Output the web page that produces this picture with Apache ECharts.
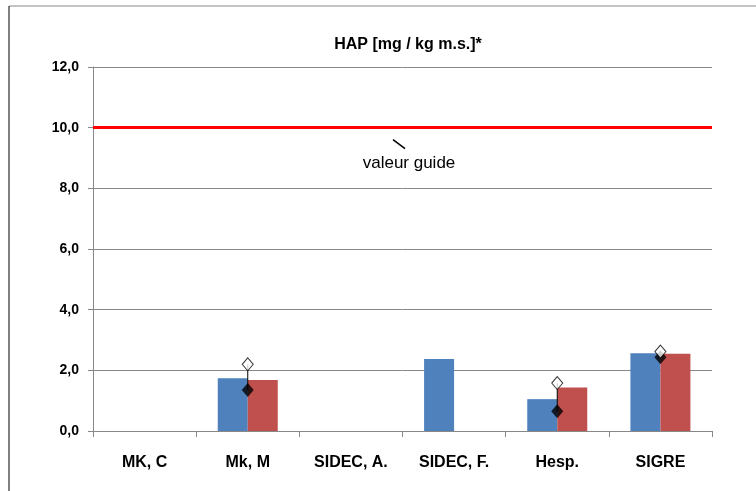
<!DOCTYPE html>
<html><head><meta charset="utf-8">
<script src="https://cdn.jsdelivr.net/npm/echarts@6/dist/echarts.min.js"></script>
<style>html,body{margin:0;padding:0;background:#fff}#c{width:756px;height:491px}</style>
</head><body><div id="c"></div>
<script>
var categories = ['MK, C', 'Mk, M', 'SIDEC, A.', 'SIDEC, F.', 'Hesp.', 'SIGRE'];
var blueValues = [null, 1.74, null, 2.37, 1.05, 2.56];
var redValues = [null, 1.68, null, null, 1.43, 2.55];
var lowValues = [null, 1.35, null, null, 0.65, 2.43];
var highValues = [null, 2.2, null, null, 1.58, 2.62];
var guideValue = 10;
var guideLabel = 'valeur guide';
var titleText = 'HAP [mg / kg m.s.]*';

var font = '"Liberation Sans", Arial, sans-serif';
var chart = echarts.init(document.getElementById('c'));
var rangeData = categories.map(function (c, i) { return [i, lowValues[i], highValues[i]]; });

chart.setOption({
  animation: false,
  backgroundColor: '#fff',
  title: { text: titleText, left: 403, top: 32, textAlign: 'center',
    textStyle: { fontFamily: font, fontSize: 16, fontWeight: 'bold', color: '#000' } },
  grid: { left: 93, right: 44, top: 67, bottom: 60 },
  xAxis: {
    type: 'category', data: categories,
    axisLine: { lineStyle: { color: '#888' } },
    axisTick: { show: true, length: 6, alignWithLabel: false, lineStyle: { color: '#888' } },
    axisLabel: { fontFamily: font, fontSize: 16, fontWeight: 'bold', color: '#000', margin: 24 }
  },
  yAxis: {
    type: 'value', min: 0, max: 12, interval: 2,
    axisLine: { show: true, lineStyle: { color: '#888' } },
    axisTick: { show: true, length: 5, lineStyle: { color: '#888' } },
    splitLine: { lineStyle: { color: '#888' } },
    axisLabel: { fontFamily: font, fontSize: 14, fontWeight: 'bold', color: '#000', margin: 14,
      formatter: function (v) { return v.toFixed(1).replace('.', ','); } }
  },
  series: [
    { type: 'bar', data: blueValues, barWidth: 30, barGap: '0%',
      itemStyle: { color: '#4F81BD' },
      markLine: { silent: true, symbol: 'none', label: { show: false },
        lineStyle: { color: '#FF0000', width: 3, type: 'solid' },
        data: [{ yAxis: guideValue }] } },
    { type: 'bar', data: redValues, barWidth: 30, itemStyle: { color: '#C0504D' } },
    { type: 'custom', data: rangeData, z: 5,
      renderItem: function (params, api) {
        if (api.value(1) == null || isNaN(api.value(1))) return;
        var p1 = api.coord([api.value(0), api.value(1)]);
        var p2 = api.coord([api.value(0), api.value(2)]);
        return { type: 'line', shape: { x1: p1[0], y1: p1[1], x2: p2[0], y2: p2[1] },
          style: { stroke: '#000', lineWidth: 1 } };
      } },
    { type: 'scatter', data: lowValues, symbol: 'diamond', symbolSize: [12, 14], z: 6,
      itemStyle: { color: '#000' } },
    { type: 'scatter', data: highValues, symbol: 'diamond', symbolSize: [11, 13], z: 6,
      itemStyle: { color: '#fff', borderColor: '#000', borderWidth: 1 } }
  ]
});

var gy = chart.convertToPixel({ yAxisIndex: 0 }, guideValue);
var gx = 399;
chart.setOption({
  graphic: [
    { type: 'line', shape: { x1: 9, y1: 6, x2: 756, y2: 6 }, style: { stroke: '#888', lineWidth: 1 } },
    { type: 'line', shape: { x1: 9, y1: 6, x2: 9, y2: 491 }, style: { stroke: '#000', lineWidth: 1 } },
    { type: 'line', shape: { x1: gx - 6, y1: gy + 12, x2: gx + 6, y2: gy + 21 },
      style: { stroke: '#000', lineWidth: 1.5 } },
    { type: 'text', x: gx + 10, y: gy + 27,
      style: { text: guideLabel, fontFamily: font, fontSize: 17, fill: '#000', textAlign: 'center' } }
  ]
});
</script></body></html>
